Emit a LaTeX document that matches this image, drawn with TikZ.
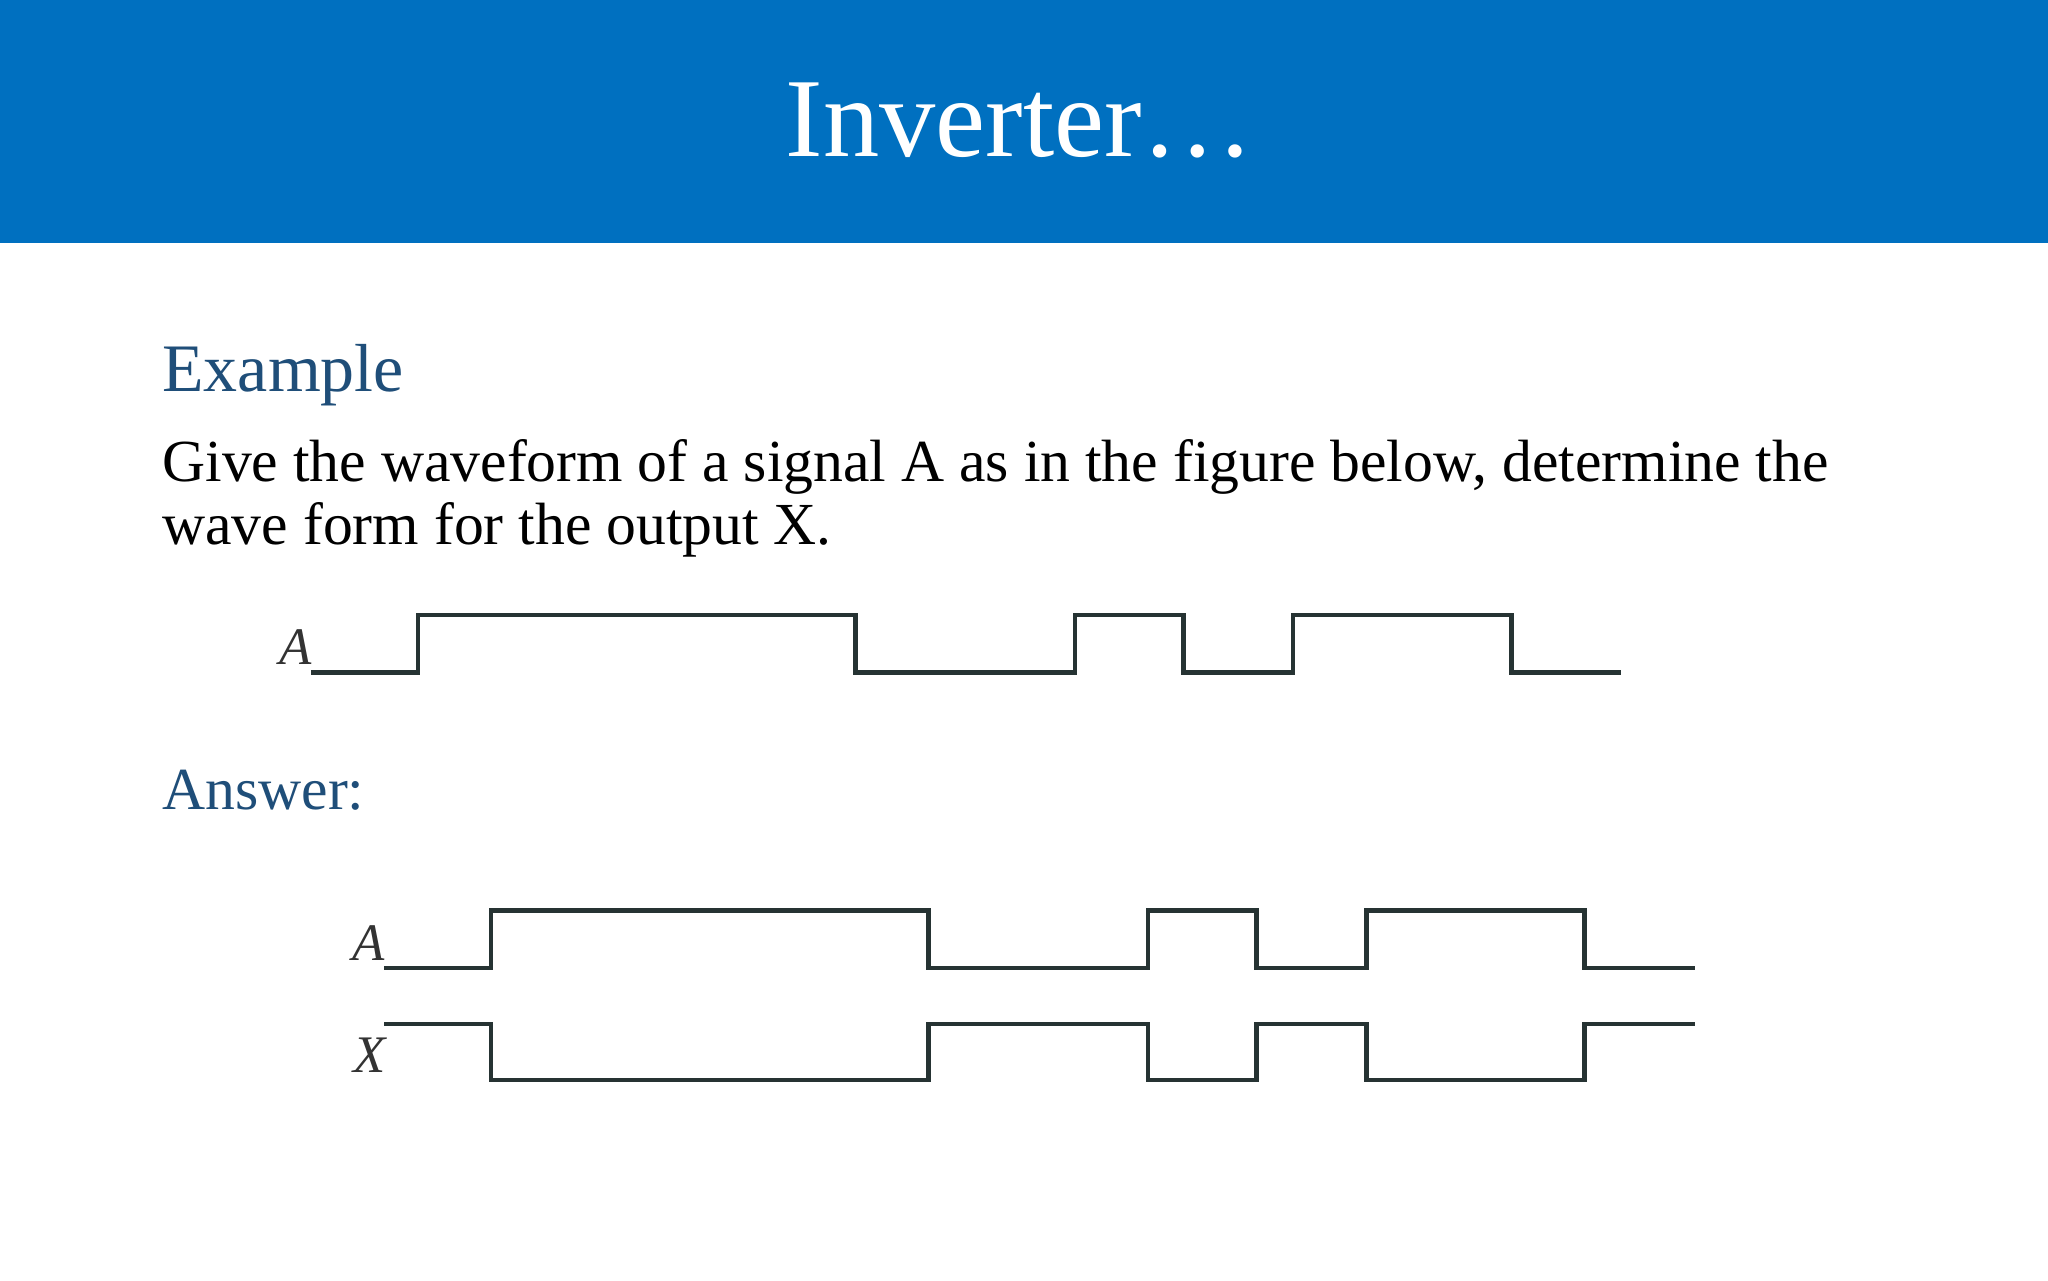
\documentclass[tikz,border=0pt]{standalone}
\usepackage{fontspec}
\setmainfont{Liberation Serif}
\definecolor{hdrblue}{HTML}{0070C0}
\definecolor{headblue}{HTML}{1F4E79}
\definecolor{wavecol}{HTML}{263333}
\definecolor{lblcol}{HTML}{333333}
\begin{document}
\begin{tikzpicture}[x=0.02cm,y=-0.02cm,
  wave/.style={draw=wavecol,line width=2pt,line join=miter},
  sig/.style={font=\fontsize{23}{23}\selectfont\itshape,text=lblcol,inner sep=0pt,anchor=base},
  heading/.style={font=\fontsize{29.6}{29.6}\selectfont,text=headblue,inner sep=0pt,anchor=base west},
  body/.style={font=\fontsize{26}{27.2}\selectfont,inner sep=0pt,anchor=base west}]
\useasboundingbox (0,0) rectangle (1568,980);
\fill[white] (0,0) rectangle (1568,980);
\fill[hdrblue] (0,0) rectangle (1568,186);
\node[font=\fontsize{49}{49}\selectfont,text=white,inner sep=0pt,anchor=base] (title) at (781,120) {Inverter\ldots};
\node[heading] (ex) at (124,300) {Example};
\node[body] (q1) at (124,369) {Give the waveform of a signal A as in the figure below, determine the};
\node[body] (q2) at (124,417) {wave form for the output X.};
\node[heading,font=\fontsize{26}{26}\selectfont] (ans) at (124,620) {Answer:};
% example waveform A
\node[sig] (la) at (226,509) {A};
\draw[wave] (238,515) -- (320,515) -- (320,471) -- (655,471) -- (655,515) -- (823,515) -- (823,471) -- (906,471) -- (906,515) -- (990,515) -- (990,471) -- (1157,471) -- (1157,515) -- (1241,515);
% answer waveform A
\node[sig] (la2) at (282,735) {A};
\draw[wave] (294,741) -- (376,741) -- (376,697) -- (711,697) -- (711,741) -- (879,741) -- (879,697) -- (962,697) -- (962,741) -- (1046,741) -- (1046,697) -- (1213,697) -- (1213,741) -- (1298,741);
% answer waveform X
\node[sig] (lx) at (283,821) {X};
\draw[wave] (294,784) -- (376,784) -- (376,827) -- (711,827) -- (711,784) -- (879,784) -- (879,827) -- (962,827) -- (962,784) -- (1046,784) -- (1046,827) -- (1213,827) -- (1213,784) -- (1298,784);
\end{tikzpicture}
\end{document}
